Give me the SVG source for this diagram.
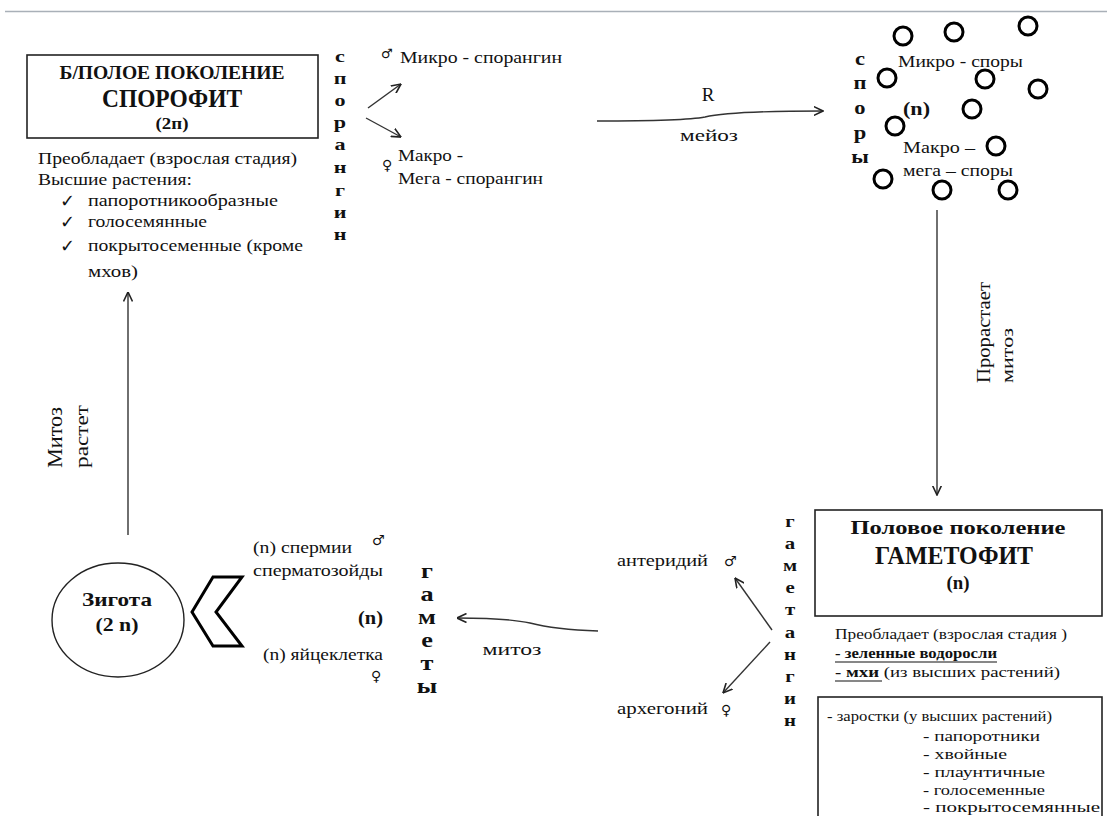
<svg xmlns="http://www.w3.org/2000/svg" width="1107" height="816" viewBox="0 0 1107 816">
  <defs>
    <marker id="arr" viewBox="0 0 10 10" refX="9.5" refY="5" markerWidth="10" markerHeight="10" markerUnits="userSpaceOnUse" orient="auto">
      <path d="M0,0.5 L9.5,5 L0,9.5" fill="none" stroke="#222" stroke-width="1.6"/>
    </marker>
  </defs>
  <style>
    text { font-family: "Liberation Serif", "DejaVu Serif", serif; fill: #111; }
    .b { font-weight: bold; }
    .sym { font-family: "DejaVu Sans", sans-serif; }
    .box { fill: #fff; stroke: #222; stroke-width: 1.6; }
    .conn { fill: none; stroke: #333; stroke-width: 1.4; marker-end: url(#arr); }
    .spore { fill: none; stroke: #000; stroke-width: 3; }
    .vert { font-weight: bold; text-anchor: middle; }
  </style>

  <rect width="1107" height="816" fill="#fff"/>
  <line x1="5" y1="11.5" x2="1107" y2="11.5" stroke="#a9b0b8" stroke-width="1.5"/>

  <!-- connectors -->
  <g id="connectors">
    <line class="conn" x1="368" y1="108" x2="401" y2="84"/>
    <line class="conn" x1="366" y1="118" x2="401" y2="137"/>
    <path class="conn" d="M597,121 C650,121 690,120 705,117 C722,113 760,111 823,111"/>
    <line class="conn" x1="937" y1="210" x2="937" y2="495"/>
    <line class="conn" x1="772" y1="630" x2="735" y2="578"/>
    <line class="conn" x1="770" y1="642" x2="723" y2="693"/>
    <path class="conn" d="M598,631 C565,630 545,627 530,623 C512,619 490,618 457,618"/>
    <line class="conn" x1="128" y1="535" x2="128" y2="292"/>
  </g>

  <!-- sporophyte -->
  <g id="sporophyte">
    <rect class="box" x="27" y="55" width="291" height="83"/>
    <text class="b" x="172" y="79" font-size="18" text-anchor="middle" textLength="225" lengthAdjust="spacingAndGlyphs">Б/ПОЛОЕ ПОКОЛЕНИЕ</text>
    <text class="b" x="172" y="107" font-size="26" text-anchor="middle" textLength="140" lengthAdjust="spacingAndGlyphs">СПОРОФИТ</text>
    <text class="b" x="172" y="129" font-size="17" text-anchor="middle" textLength="33" lengthAdjust="spacingAndGlyphs">(2п)</text>
  </g>

  <g id="sporophyte-notes" font-size="17">
    <text x="38" y="164" textLength="259" lengthAdjust="spacingAndGlyphs">Преобладает (взрослая стадия)</text>
    <text x="38" y="185" textLength="154" lengthAdjust="spacingAndGlyphs">Высшие растения:</text>
    <text class="sym" x="60" y="207" font-size="18">✓</text>
    <text x="88" y="206" textLength="190" lengthAdjust="spacingAndGlyphs">папоротникообразные</text>
    <text class="sym" x="60" y="228" font-size="18">✓</text>
    <text x="88" y="227" textLength="119" lengthAdjust="spacingAndGlyphs">голосемянные</text>
    <text class="sym" x="60" y="252" font-size="18">✓</text>
    <text x="88" y="251" textLength="215" lengthAdjust="spacingAndGlyphs">покрытосеменные (кроме</text>
    <text x="88" y="277" textLength="50" lengthAdjust="spacingAndGlyphs">мхов)</text>
  </g>

  <!-- sporangium, written downwards (letters widened horizontally) -->
  <g id="sporangin" font-size="17" transform="translate(340,0) scale(1.3,1)">
    <text class="vert" x="0" y="62">с</text>
    <text class="vert" x="0" y="84">п</text>
    <text class="vert" x="0" y="106">о</text>
    <text class="vert" x="0" y="128">р</text>
    <text class="vert" x="0" y="150">а</text>
    <text class="vert" x="0" y="173">н</text>
    <text class="vert" x="0" y="196">г</text>
    <text class="vert" x="0" y="218">и</text>
    <text class="vert" x="0" y="240">н</text>
  </g>

  <g id="microsporangium" font-size="16">
    <text class="sym" x="381" y="58" font-size="13">♂</text>
    <text x="400" y="63" textLength="162" lengthAdjust="spacingAndGlyphs">Микро - спорангин</text>
  </g>
  <g id="megasporangium" font-size="16">
    <text class="sym" x="382" y="170" font-size="14">♀</text>
    <text x="398" y="161" textLength="65" lengthAdjust="spacingAndGlyphs">Макро -</text>
    <text x="398" y="184" textLength="145" lengthAdjust="spacingAndGlyphs">Мега - спорангин</text>
  </g>

  <g id="meiosis-label">
    <text x="708" y="101" font-size="19" text-anchor="middle">R</text>
    <text x="709" y="141" font-size="17" text-anchor="middle" textLength="58" lengthAdjust="spacingAndGlyphs">мейоз</text>
  </g>

  <!-- spores -->
  <g id="spores">
    <circle class="spore" cx="903" cy="36" r="9"/>
    <circle class="spore" cx="954" cy="32" r="9"/>
    <circle class="spore" cx="1028" cy="26" r="9"/>
    <circle class="spore" cx="887" cy="78" r="9"/>
    <circle class="spore" cx="985" cy="79" r="9"/>
    <circle class="spore" cx="1038" cy="89" r="9"/>
    <circle class="spore" cx="972" cy="109" r="9"/>
    <circle class="spore" cx="895" cy="126" r="9"/>
    <circle class="spore" cx="996" cy="146" r="9"/>
    <circle class="spore" cx="883" cy="179" r="9"/>
    <circle class="spore" cx="942" cy="190" r="9"/>
    <circle class="spore" cx="1008" cy="190" r="9"/>
    <g font-size="18" transform="translate(860,0) scale(1.25,1)">
      <text class="vert" x="0" y="65">с</text>
      <text class="vert" x="0" y="89">п</text>
      <text class="vert" x="0" y="114">о</text>
      <text class="vert" x="0" y="139">р</text>
      <text class="vert" x="0" y="163">ы</text>
    </g>
    <text x="898" y="67" font-size="16" textLength="125" lengthAdjust="spacingAndGlyphs">Микро - споры</text>
    <text class="b" x="903" y="115" font-size="18" textLength="27" lengthAdjust="spacingAndGlyphs">(n)</text>
    <text x="903" y="153" font-size="16" textLength="72" lengthAdjust="spacingAndGlyphs">Макро –</text>
    <text x="903" y="176" font-size="16" textLength="110" lengthAdjust="spacingAndGlyphs">мега – споры</text>
  </g>

  <g id="germination-label" font-size="19">
    <text transform="translate(990,383) rotate(-90)" textLength="101" lengthAdjust="spacingAndGlyphs">Прорастает</text>
    <text transform="translate(1013,383) rotate(-90)" font-size="16" textLength="55" lengthAdjust="spacingAndGlyphs">митоз</text>
  </g>

  <!-- gametophyte -->
  <g id="gametophyte">
    <rect class="box" x="815" y="510" width="287" height="106"/>
    <text class="b" x="958" y="534" font-size="18" text-anchor="middle" textLength="215" lengthAdjust="spacingAndGlyphs">Половое поколение</text>
    <text class="b" x="954" y="564" font-size="25" text-anchor="middle" textLength="158" lengthAdjust="spacingAndGlyphs">ГАМЕТОФИТ</text>
    <text class="b" x="958" y="589" font-size="19" text-anchor="middle" textLength="23" lengthAdjust="spacingAndGlyphs">(n)</text>
  </g>

  <g id="gametophyte-notes" font-size="15">
    <text x="835" y="639" textLength="232" lengthAdjust="spacingAndGlyphs">Преобладает (взрослая стадия )</text>
    <text class="b" x="835" y="658" textLength="162" lengthAdjust="spacingAndGlyphs">- зеленные водоросли</text>
    <line x1="835" y1="662" x2="997" y2="662" stroke="#111" stroke-width="1.2"/>
    <text x="835" y="677" textLength="225" lengthAdjust="spacingAndGlyphs"><tspan class="b">- мхи</tspan> (из высших растений)</text>
    <line x1="835" y1="681" x2="882" y2="681" stroke="#111" stroke-width="1.2"/>
  </g>

  <g id="prothallus">
    <rect class="box" x="818" y="697" width="284" height="130"/>
    <g font-size="14">
      <text x="827" y="721" textLength="225" lengthAdjust="spacingAndGlyphs">- заростки (у высших растений)</text>
      <text x="923" y="741" textLength="117" lengthAdjust="spacingAndGlyphs">- папоротники</text>
      <text x="923" y="759" textLength="84" lengthAdjust="spacingAndGlyphs">- хвойные</text>
      <text x="923" y="777" textLength="122" lengthAdjust="spacingAndGlyphs">- плаунтичные</text>
      <text x="923" y="795" textLength="122" lengthAdjust="spacingAndGlyphs">- голосеменные</text>
      <text x="923" y="812" textLength="177" lengthAdjust="spacingAndGlyphs">- покрытосемянные</text>
    </g>
  </g>

  <!-- gametangium, written downwards (letters widened horizontally) -->
  <g id="gametangin" font-size="16" transform="translate(790,0) scale(1.3,1)">
    <text class="vert" x="0" y="527">г</text>
    <text class="vert" x="0" y="549">а</text>
    <text class="vert" x="0" y="571">м</text>
    <text class="vert" x="0" y="593">е</text>
    <text class="vert" x="0" y="615">т</text>
    <text class="vert" x="0" y="638">а</text>
    <text class="vert" x="0" y="660">н</text>
    <text class="vert" x="0" y="682">г</text>
    <text class="vert" x="0" y="704">и</text>
    <text class="vert" x="0" y="726">н</text>
  </g>

  <g id="antheridium" font-size="16">
    <text x="617" y="566" textLength="91" lengthAdjust="spacingAndGlyphs">антеридий</text>
    <text class="sym" x="724" y="566" font-size="14">♂</text>
  </g>
  <g id="archegonium" font-size="16">
    <text x="617" y="714" textLength="91" lengthAdjust="spacingAndGlyphs">архегоний</text>
    <text class="sym" x="721" y="715" font-size="14">♀</text>
  </g>

  <!-- gametes -->
  <g id="gametes" font-size="16">
    <text x="253" y="553" textLength="99" lengthAdjust="spacingAndGlyphs">(n) спермии</text>
    <text class="sym" x="372" y="545" font-size="14">♂</text>
    <text x="253" y="576" textLength="130" lengthAdjust="spacingAndGlyphs">сперматозойды</text>
    <text class="b" x="358" y="624" font-size="19" textLength="25" lengthAdjust="spacingAndGlyphs">(n)</text>
    <text x="263" y="660" textLength="120" lengthAdjust="spacingAndGlyphs">(n) яйцеклетка</text>
    <text class="sym" x="371" y="681" font-size="14">♀</text>
    <g font-size="21" transform="translate(427,0) scale(1.25,1)">
      <text class="vert" x="0" y="578">г</text>
      <text class="vert" x="0" y="601">а</text>
      <text class="vert" x="0" y="624">м</text>
      <text class="vert" x="0" y="647">е</text>
      <text class="vert" x="0" y="670">т</text>
      <text class="vert" x="0" y="693">ы</text>
    </g>
  </g>

  <g id="mitosis-label">
    <text x="512" y="655" font-size="16" text-anchor="middle" textLength="59" lengthAdjust="spacingAndGlyphs">митоз</text>
  </g>

  <!-- zygote -->
  <g id="zygote">
    <ellipse cx="118" cy="620" rx="66" ry="57" fill="#fff" stroke="#222" stroke-width="1.4"/>
    <text class="b" x="117" y="606" font-size="19" text-anchor="middle" textLength="70" lengthAdjust="spacingAndGlyphs">Зигота</text>
    <text class="b" x="117" y="631" font-size="19" text-anchor="middle" textLength="43" lengthAdjust="spacingAndGlyphs">(2 n)</text>
  </g>

  <g id="fusion">
    <polygon points="192,612 213,577 242,577 216,612 242,646 213,646" fill="#fff" stroke="#000" stroke-width="3" stroke-linejoin="miter"/>
  </g>

  <g id="growth-label" font-size="21">
    <text transform="translate(62,468) rotate(-90)" textLength="61" lengthAdjust="spacingAndGlyphs">Митоз</text>
    <text transform="translate(88,468) rotate(-90)" font-size="18" textLength="63" lengthAdjust="spacingAndGlyphs">растет</text>
  </g>
</svg>
